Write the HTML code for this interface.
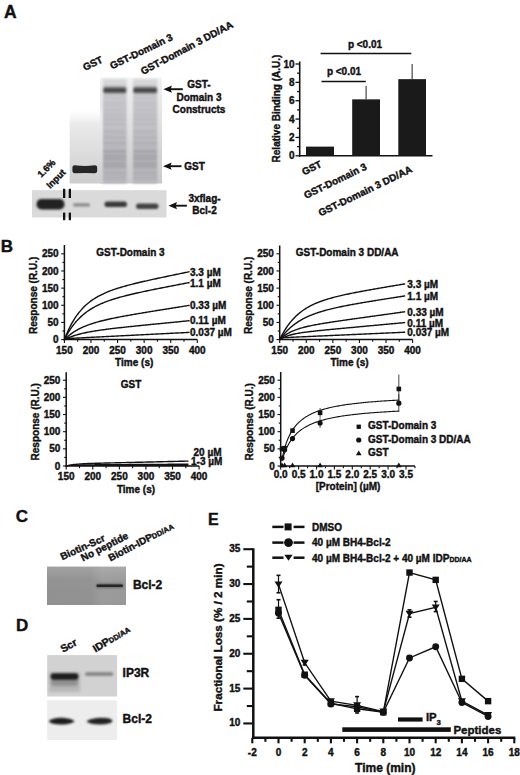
<!DOCTYPE html>
<html><head><meta charset="utf-8"><style>
html,body{margin:0;padding:0;background:#fff;}
svg{display:block;}
text{font-family:"Liberation Sans", sans-serif;font-weight:bold;fill:#111;stroke:#111;stroke-width:0.4px;}
</style></head><body>
<svg width="520" height="775" viewBox="0 0 520 775">
<rect width="520" height="775" fill="#fff"/>
<text x="4" y="18.3" font-size="17.5" text-anchor="start">A</text>
<text x="85" y="71" font-size="10" text-anchor="start" transform="rotate(-26 85 71)">GST</text>
<text x="112" y="69.5" font-size="10" text-anchor="start" transform="rotate(-26 112 69.5)">GST-Domain 3</text>
<text x="143" y="75" font-size="10" text-anchor="start" transform="rotate(-28 143 75)">GST-Domain 3 DD/AA</text>
<defs>
<linearGradient id="lane1" x1="0" y1="0" x2="0" y2="1">
 <stop offset="0" stop-color="#fff"/><stop offset="0.12" stop-color="#e6e6e8"/><stop offset="0.6" stop-color="#d2d2d6"/><stop offset="1" stop-color="#c6c6ca"/></linearGradient>
<linearGradient id="laneS" x1="0" y1="0" x2="0" y2="1">
 <stop offset="0" stop-color="#cfcfd3"/><stop offset="0.5" stop-color="#bcbcc2"/><stop offset="0.85" stop-color="#a9a9b0"/><stop offset="1" stop-color="#b4b4ba"/></linearGradient>
<filter id="bl1" x="-20%" y="-50%" width="140%" height="200%"><feGaussianBlur stdDeviation="1"/></filter>
<filter id="bl06" x="-20%" y="-50%" width="140%" height="200%"><feGaussianBlur stdDeviation="0.6"/></filter>
<filter id="bl2" x="-20%" y="-50%" width="140%" height="200%"><feGaussianBlur stdDeviation="1.6"/></filter>
</defs>
<defs><linearGradient id="gbg" x1="0" y1="0" x2="0" y2="1"><stop offset="0" stop-color="#f4f4f4"/><stop offset="0.05" stop-color="#eeeeee"/><stop offset="0.35" stop-color="#e4e4e4"/><stop offset="0.7" stop-color="#d4d4d4"/><stop offset="1" stop-color="#c9c9c9"/></linearGradient><linearGradient id="gl1" x1="0" y1="0" x2="0" y2="1"><stop offset="0" stop-color="#fff" stop-opacity="0"/><stop offset="0.22" stop-color="#eaeaea"/><stop offset="0.7" stop-color="#d9d9d9"/><stop offset="1" stop-color="#cdcdcd"/></linearGradient><linearGradient id="gl2" x1="0" y1="0" x2="0" y2="1"><stop offset="0" stop-color="#dadadd"/><stop offset="0.08" stop-color="#d0d0d4"/><stop offset="0.4" stop-color="#c3c3c7"/><stop offset="0.75" stop-color="#b3b3b7"/><stop offset="1" stop-color="#b8b8bc"/></linearGradient></defs>
<rect x="100" y="77.5" width="62" height="106" fill="url(#gbg)"/>
<rect x="69.7" y="106" width="33.5" height="77.5" fill="url(#gl1)"/>
<g filter="url(#bl1)">
<rect x="103" y="79" width="23.6" height="104.5" fill="url(#gl2)"/>
<rect x="103.5" y="95.3" width="22.6" height="2" fill="#334" opacity="0.064"/>
<rect x="103.5" y="97.8" width="22.6" height="2" fill="#334" opacity="0.048"/>
<rect x="103.5" y="101.7" width="22.6" height="2" fill="#334" opacity="0.080"/>
<rect x="103.5" y="104.9" width="22.6" height="2" fill="#334" opacity="0.064"/>
<rect x="103.5" y="108.8" width="22.6" height="2" fill="#334" opacity="0.080"/>
<rect x="103.5" y="112.7" width="22.6" height="2" fill="#334" opacity="0.064"/>
<rect x="103.5" y="115.2" width="22.6" height="2" fill="#334" opacity="0.056"/>
<rect x="103.5" y="118.5" width="22.6" height="2" fill="#334" opacity="0.080"/>
<rect x="103.5" y="123" width="22.6" height="2" fill="#334" opacity="0.064"/>
<rect x="103.5" y="130.4" width="22.6" height="2" fill="#334" opacity="0.080"/>
<rect x="103.5" y="136.2" width="22.6" height="2" fill="#334" opacity="0.080"/>
<rect x="103.5" y="142" width="22.6" height="2" fill="#334" opacity="0.096"/>
<rect x="103.5" y="150.4" width="22.6" height="2" fill="#334" opacity="0.176"/>
<rect x="103.5" y="154.9" width="22.6" height="2" fill="#334" opacity="0.144"/>
<rect x="103.5" y="158.1" width="22.6" height="2" fill="#334" opacity="0.144"/>
<rect x="103.5" y="162.7" width="22.6" height="2" fill="#334" opacity="0.176"/>
<rect x="103.5" y="165.9" width="22.6" height="2" fill="#334" opacity="0.160"/>
<rect x="103.5" y="172.3" width="22.6" height="2" fill="#334" opacity="0.080"/>
<rect x="103.5" y="176.8" width="22.6" height="2" fill="#334" opacity="0.064"/>
<rect x="103" y="86.4" width="23.6" height="7.4" rx="2.5" fill="#6a6a6a" opacity="0.85"/>
<rect x="103.6" y="88.2" width="22.400000000000002" height="4" rx="1.5" fill="#3a3a3a" opacity="0.8"/>
<rect x="133" y="79" width="24.3" height="104.5" fill="url(#gl2)"/>
<rect x="133.5" y="95.3" width="23.3" height="2" fill="#334" opacity="0.064"/>
<rect x="133.5" y="97.8" width="23.3" height="2" fill="#334" opacity="0.048"/>
<rect x="133.5" y="101.7" width="23.3" height="2" fill="#334" opacity="0.080"/>
<rect x="133.5" y="104.9" width="23.3" height="2" fill="#334" opacity="0.064"/>
<rect x="133.5" y="108.8" width="23.3" height="2" fill="#334" opacity="0.080"/>
<rect x="133.5" y="112.7" width="23.3" height="2" fill="#334" opacity="0.064"/>
<rect x="133.5" y="115.2" width="23.3" height="2" fill="#334" opacity="0.056"/>
<rect x="133.5" y="118.5" width="23.3" height="2" fill="#334" opacity="0.080"/>
<rect x="133.5" y="123" width="23.3" height="2" fill="#334" opacity="0.064"/>
<rect x="133.5" y="130.4" width="23.3" height="2" fill="#334" opacity="0.080"/>
<rect x="133.5" y="136.2" width="23.3" height="2" fill="#334" opacity="0.080"/>
<rect x="133.5" y="142" width="23.3" height="2" fill="#334" opacity="0.096"/>
<rect x="133.5" y="150.4" width="23.3" height="2" fill="#334" opacity="0.176"/>
<rect x="133.5" y="154.9" width="23.3" height="2" fill="#334" opacity="0.144"/>
<rect x="133.5" y="158.1" width="23.3" height="2" fill="#334" opacity="0.144"/>
<rect x="133.5" y="162.7" width="23.3" height="2" fill="#334" opacity="0.176"/>
<rect x="133.5" y="165.9" width="23.3" height="2" fill="#334" opacity="0.160"/>
<rect x="133.5" y="172.3" width="23.3" height="2" fill="#334" opacity="0.080"/>
<rect x="133.5" y="176.8" width="23.3" height="2" fill="#334" opacity="0.064"/>
<rect x="133" y="86.4" width="24.3" height="7.4" rx="2.5" fill="#6a6a6a" opacity="0.85"/>
<rect x="133.6" y="88.2" width="23.1" height="4" rx="1.5" fill="#3a3a3a" opacity="0.8"/>
</g>
<path d="M72.4,168.2 Q72.2,165 75,165.2 Q84.8,166.6 94.6,165.2 Q97.4,165 97.2,168.2 L97.2,170.6 Q97.2,173.4 94.4,173.2 Q84.8,172.8 75.2,173.2 Q72.4,173.4 72.4,170.6 Z" fill="#262626" filter="url(#bl06)"/>
<rect x="32" y="190.2" width="134.5" height="27.3" fill="#dadada"/>
<g filter="url(#bl1)">
<rect x="36.5" y="199" width="28" height="10.5" rx="5" fill="#222"/>
<rect x="73" y="203.2" width="17" height="3.4" rx="1.7" fill="#8a8a8a"/>
<rect x="104.5" y="201.5" width="22.5" height="5.6" rx="2.8" fill="#383838"/>
<rect x="136" y="203.6" width="22.5" height="5.4" rx="2.7" fill="#424242"/>
</g>
<rect x="62.99999999999999" y="188.8" width="2.3" height="9.2" fill="#111"/>
<rect x="62.99999999999999" y="212.6" width="2.3" height="7.6" fill="#111"/>
<rect x="68.7" y="188.8" width="2.3" height="9.2" fill="#111"/>
<rect x="68.7" y="212.6" width="2.3" height="7.6" fill="#111"/>
<text x="41.3" y="178" font-size="9.2" text-anchor="start" transform="rotate(-45 41.3 178)">1.6%</text>
<text x="50.3" y="189" font-size="9.2" text-anchor="start" transform="rotate(-45 50.3 189)">Input</text>
<line x1="168.4" y1="89.2" x2="182.8" y2="89.2" stroke="#111" stroke-width="1.9"/><path d="M163.4,89.2 L171.9,85.60000000000001 L170.6,89.2 L171.9,92.8 Z" fill="#111"/>
<text x="199" y="88.1" font-size="10" text-anchor="middle">GST-</text>
<text x="199" y="100.6" font-size="10" text-anchor="middle">Domain 3</text>
<text x="199" y="112.7" font-size="10" text-anchor="middle">Constructs</text>
<line x1="168.1" y1="166.2" x2="181.5" y2="166.2" stroke="#111" stroke-width="1.9"/><path d="M163.1,166.2 L171.6,162.6 L170.29999999999998,166.2 L171.6,169.79999999999998 Z" fill="#111"/>
<text x="184.3" y="169.8" font-size="10" text-anchor="start">GST</text>
<line x1="173.5" y1="205.7" x2="186.9" y2="205.7" stroke="#111" stroke-width="1.9"/><path d="M168.5,205.7 L177.0,202.1 L175.7,205.7 L177.0,209.29999999999998 Z" fill="#111"/>
<text x="204.5" y="202" font-size="10" text-anchor="middle">3xflag-</text>
<text x="204.5" y="213.5" font-size="10" text-anchor="middle">Bcl-2</text>
<line x1="299.7" y1="61.5" x2="299.7" y2="156.6" stroke="#111" stroke-width="1.6"/>
<line x1="298.9" y1="155.8" x2="432.5" y2="155.8" stroke="#111" stroke-width="1.6"/>
<line x1="295.5" y1="155.8" x2="299.7" y2="155.8" stroke="#111" stroke-width="1.3"/>
<text x="294.5" y="159.4" font-size="10" text-anchor="end">0</text>
<line x1="297.09999999999997" y1="146.62" x2="299.7" y2="146.62" stroke="#111" stroke-width="1.3"/>
<line x1="295.5" y1="137.44" x2="299.7" y2="137.44" stroke="#111" stroke-width="1.3"/>
<text x="294.5" y="141.04" font-size="10" text-anchor="end">2</text>
<line x1="297.09999999999997" y1="128.26000000000002" x2="299.7" y2="128.26000000000002" stroke="#111" stroke-width="1.3"/>
<line x1="295.5" y1="119.08000000000001" x2="299.7" y2="119.08000000000001" stroke="#111" stroke-width="1.3"/>
<text x="294.5" y="122.68" font-size="10" text-anchor="end">4</text>
<line x1="297.09999999999997" y1="109.9" x2="299.7" y2="109.9" stroke="#111" stroke-width="1.3"/>
<line x1="295.5" y1="100.72000000000001" x2="299.7" y2="100.72000000000001" stroke="#111" stroke-width="1.3"/>
<text x="294.5" y="104.32000000000001" font-size="10" text-anchor="end">6</text>
<line x1="297.09999999999997" y1="91.54000000000002" x2="299.7" y2="91.54000000000002" stroke="#111" stroke-width="1.3"/>
<line x1="295.5" y1="82.36000000000001" x2="299.7" y2="82.36000000000001" stroke="#111" stroke-width="1.3"/>
<text x="294.5" y="85.96000000000001" font-size="10" text-anchor="end">8</text>
<line x1="297.09999999999997" y1="73.18" x2="299.7" y2="73.18" stroke="#111" stroke-width="1.3"/>
<line x1="295.5" y1="64.00000000000001" x2="299.7" y2="64.00000000000001" stroke="#111" stroke-width="1.3"/>
<text x="294.5" y="67.60000000000001" font-size="10" text-anchor="end">10</text>
<rect x="306" y="146.62" width="28" height="9.18" fill="#1a1a1a"/>
<line x1="366.1" y1="86.03200000000001" x2="366.1" y2="99.34300000000002" stroke="#555" stroke-width="1.3"/>
<rect x="352.2" y="99.34300000000002" width="27.80000000000001" height="56.457" fill="#1a1a1a"/>
<line x1="412.15" y1="64.00000000000001" x2="412.15" y2="79.14700000000002" stroke="#555" stroke-width="1.3"/>
<rect x="398.3" y="79.14700000000002" width="27.69999999999999" height="76.65299999999999" fill="#1a1a1a"/>
<line x1="320.6" y1="53.5" x2="411.3" y2="53.5" stroke="#111" stroke-width="1.4"/>
<line x1="321.5" y1="81.5" x2="365.8" y2="81.5" stroke="#111" stroke-width="1.4"/>
<text x="365" y="47.7" font-size="10" text-anchor="middle">p &lt;0.01</text>
<text x="344" y="74.6" font-size="10" text-anchor="middle">p &lt;0.01</text>
<text x="279.8" y="108.5" font-size="10" text-anchor="middle" transform="rotate(-90 279.8 108.5)">Relative Binding (A.U.)</text>
<text x="322.5" y="166.5" font-size="10" text-anchor="end" transform="rotate(-26 322.5 166.5)">GST</text>
<text x="367.5" y="169" font-size="10" text-anchor="end" transform="rotate(-26 367.5 169)">GST-Domain 3</text>
<text x="413" y="171.5" font-size="10" text-anchor="end" transform="rotate(-26 413 171.5)">GST-Domain 3 DD/AA</text>
<text x="0.8" y="252.3" font-size="17" text-anchor="start">B</text>
<line x1="64.4" y1="245" x2="64.4" y2="340.40000000000003" stroke="#111" stroke-width="1.5"/>
<line x1="63.7" y1="339.6" x2="197.29999999999998" y2="339.6" stroke="#111" stroke-width="1.5"/>
<line x1="61.2" y1="339.6" x2="64.4" y2="339.6" stroke="#111" stroke-width="1.1"/>
<text x="58.60000000000001" y="343.20000000000005" font-size="10" text-anchor="end">0</text>
<line x1="62.400000000000006" y1="331.02000000000004" x2="64.4" y2="331.02000000000004" stroke="#111" stroke-width="1.1"/>
<line x1="61.2" y1="322.44" x2="64.4" y2="322.44" stroke="#111" stroke-width="1.1"/>
<text x="58.60000000000001" y="326.04" font-size="10" text-anchor="end">50</text>
<line x1="62.400000000000006" y1="313.86" x2="64.4" y2="313.86" stroke="#111" stroke-width="1.1"/>
<line x1="61.2" y1="305.28000000000003" x2="64.4" y2="305.28000000000003" stroke="#111" stroke-width="1.1"/>
<text x="58.60000000000001" y="308.88000000000005" font-size="10" text-anchor="end">100</text>
<line x1="62.400000000000006" y1="296.70000000000005" x2="64.4" y2="296.70000000000005" stroke="#111" stroke-width="1.1"/>
<line x1="61.2" y1="288.12" x2="64.4" y2="288.12" stroke="#111" stroke-width="1.1"/>
<text x="58.60000000000001" y="291.72" font-size="10" text-anchor="end">150</text>
<line x1="62.400000000000006" y1="279.54" x2="64.4" y2="279.54" stroke="#111" stroke-width="1.1"/>
<line x1="61.2" y1="270.96000000000004" x2="64.4" y2="270.96000000000004" stroke="#111" stroke-width="1.1"/>
<text x="58.60000000000001" y="274.56000000000006" font-size="10" text-anchor="end">200</text>
<line x1="62.400000000000006" y1="262.38" x2="64.4" y2="262.38" stroke="#111" stroke-width="1.1"/>
<line x1="61.2" y1="253.8" x2="64.4" y2="253.8" stroke="#111" stroke-width="1.1"/>
<text x="58.60000000000001" y="257.40000000000003" font-size="10" text-anchor="end">250</text>
<line x1="64.4" y1="339.6" x2="64.4" y2="343.1" stroke="#111" stroke-width="1.1"/>
<text x="64.4" y="353.6" font-size="10" text-anchor="middle">150</text>
<line x1="77.69" y1="339.6" x2="77.69" y2="341.8" stroke="#111" stroke-width="1.1"/>
<line x1="90.98" y1="339.6" x2="90.98" y2="343.1" stroke="#111" stroke-width="1.1"/>
<text x="90.98" y="353.6" font-size="10" text-anchor="middle">200</text>
<line x1="104.27000000000001" y1="339.6" x2="104.27000000000001" y2="341.8" stroke="#111" stroke-width="1.1"/>
<line x1="117.56" y1="339.6" x2="117.56" y2="343.1" stroke="#111" stroke-width="1.1"/>
<text x="117.56" y="353.6" font-size="10" text-anchor="middle">250</text>
<line x1="130.85" y1="339.6" x2="130.85" y2="341.8" stroke="#111" stroke-width="1.1"/>
<line x1="144.14" y1="339.6" x2="144.14" y2="343.1" stroke="#111" stroke-width="1.1"/>
<text x="144.14" y="353.6" font-size="10" text-anchor="middle">300</text>
<line x1="157.43" y1="339.6" x2="157.43" y2="341.8" stroke="#111" stroke-width="1.1"/>
<line x1="170.72" y1="339.6" x2="170.72" y2="343.1" stroke="#111" stroke-width="1.1"/>
<text x="170.72" y="353.6" font-size="10" text-anchor="middle">350</text>
<line x1="184.01" y1="339.6" x2="184.01" y2="341.8" stroke="#111" stroke-width="1.1"/>
<line x1="197.29999999999998" y1="339.6" x2="197.29999999999998" y2="343.1" stroke="#111" stroke-width="1.1"/>
<text x="197.29999999999998" y="353.6" font-size="10" text-anchor="middle">400</text>
<text x="134.2" y="366.1" font-size="10" text-anchor="middle">Time (s)</text>
<text x="36.900000000000006" y="295.40000000000003" font-size="10" text-anchor="middle" transform="rotate(-90 36.900000000000006 295.40000000000003)">Response (R.U.)</text>
<text x="96.3" y="255.9" font-size="10" text-anchor="start">GST-Domain 3</text>
<polyline points="64.40,339.60 65.45,336.89 66.50,334.34 67.56,331.91 68.61,329.62 69.66,327.45 70.71,325.40 71.76,323.45 72.82,321.60 73.87,319.86 74.92,318.20 75.97,316.62 77.02,315.13 78.08,313.71 79.13,312.36 80.18,311.08 81.23,309.86 82.28,308.70 83.34,307.59 84.39,306.54 85.44,305.54 86.49,304.58 87.54,303.67 88.60,302.79 89.65,301.96 90.70,301.16 91.75,300.40 92.80,299.67 93.86,298.97 94.91,298.30 95.96,297.65 97.01,297.03 98.07,296.43 99.12,295.86 100.17,295.31 101.22,294.77 102.27,294.26 103.33,293.76 104.38,293.28 105.43,292.82 106.48,292.37 107.53,291.93 108.59,291.51 109.64,291.10 110.69,290.70 111.74,290.31 112.79,289.94 113.85,289.57 114.90,289.21 115.95,288.86 117.00,288.51 118.05,288.18 119.11,287.85 120.16,287.53 121.21,287.21 122.26,286.90 123.31,286.60 124.37,286.30 125.42,286.01 126.47,285.72 127.52,285.43 128.57,285.15 129.63,284.88 130.68,284.60 131.73,284.33 132.78,284.07 133.83,283.80 134.89,283.54 135.94,283.29 136.99,283.03 138.04,282.78 139.09,282.53 140.15,282.28 141.20,282.03 142.25,281.79 143.30,281.55 144.35,281.30 145.41,281.06 146.46,280.83 147.51,280.59 148.56,280.35 149.61,280.12 150.67,279.89 151.72,279.66 152.77,279.42 153.82,279.19 154.87,278.96 155.93,278.74 156.98,278.51 158.03,278.28 159.08,278.06 160.13,277.83 161.19,277.61 162.24,277.38 163.29,277.16 164.34,276.94 165.40,276.71 166.45,276.49 167.50,276.27 168.55,276.05 169.60,275.83 170.66,275.61 171.71,275.39 172.76,275.17 173.81,274.95 174.86,274.73 175.92,274.51 176.97,274.29 178.02,274.07 179.07,273.86 180.12,273.64 181.18,273.42 182.23,273.20 183.28,272.98 184.33,272.77 185.38,272.55 186.44,272.33 187.49,272.12 188.54,271.90 189.59,271.68" fill="none" stroke="#111" stroke-width="1.4"/>
<polyline points="64.40,339.60 65.45,337.55 66.50,335.60 67.56,333.74 68.61,331.98 69.66,330.31 70.71,328.71 71.76,327.19 72.82,325.75 73.87,324.38 74.92,323.07 75.97,321.82 77.02,320.63 78.08,319.49 79.13,318.41 80.18,317.37 81.23,316.38 82.28,315.44 83.34,314.53 84.39,313.67 85.44,312.84 86.49,312.05 87.54,311.29 88.60,310.56 89.65,309.86 90.70,309.19 91.75,308.54 92.80,307.92 93.86,307.32 94.91,306.75 95.96,306.19 97.01,305.66 98.07,305.14 99.12,304.64 100.17,304.16 101.22,303.69 102.27,303.24 103.33,302.80 104.38,302.38 105.43,301.97 106.48,301.57 107.53,301.18 108.59,300.80 109.64,300.43 110.69,300.07 111.74,299.72 112.79,299.38 113.85,299.04 114.90,298.72 115.95,298.40 117.00,298.09 118.05,297.78 119.11,297.48 120.16,297.19 121.21,296.90 122.26,296.61 123.31,296.33 124.37,296.06 125.42,295.79 126.47,295.52 127.52,295.26 128.57,295.00 129.63,294.74 130.68,294.49 131.73,294.24 132.78,293.99 133.83,293.75 134.89,293.51 135.94,293.27 136.99,293.03 138.04,292.80 139.09,292.56 140.15,292.33 141.20,292.11 142.25,291.88 143.30,291.65 144.35,291.43 145.41,291.21 146.46,290.98 147.51,290.76 148.56,290.55 149.61,290.33 150.67,290.11 151.72,289.90 152.77,289.68 153.82,289.47 154.87,289.25 155.93,289.04 156.98,288.83 158.03,288.62 159.08,288.41 160.13,288.20 161.19,287.99 162.24,287.79 163.29,287.58 164.34,287.37 165.40,287.17 166.45,286.96 167.50,286.75 168.55,286.55 169.60,286.34 170.66,286.14 171.71,285.94 172.76,285.73 173.81,285.53 174.86,285.33 175.92,285.12 176.97,284.92 178.02,284.72 179.07,284.52 180.12,284.31 181.18,284.11 182.23,283.91 183.28,283.71 184.33,283.51 185.38,283.31 186.44,283.11 187.49,282.91 188.54,282.71 189.59,282.51" fill="none" stroke="#111" stroke-width="1.4"/>
<polyline points="64.40,339.60 65.45,338.57 66.50,337.59 67.56,336.66 68.61,335.78 69.66,334.93 70.71,334.13 71.76,333.37 72.82,332.64 73.87,331.95 74.92,331.28 75.97,330.65 77.02,330.04 78.08,329.47 79.13,328.91 80.18,328.38 81.23,327.87 82.28,327.38 83.34,326.91 84.39,326.46 85.44,326.03 86.49,325.61 87.54,325.20 88.60,324.81 89.65,324.44 90.70,324.07 91.75,323.72 92.80,323.38 93.86,323.05 94.91,322.73 95.96,322.42 97.01,322.12 98.07,321.82 99.12,321.54 100.17,321.26 101.22,320.98 102.27,320.72 103.33,320.46 104.38,320.20 105.43,319.95 106.48,319.71 107.53,319.47 108.59,319.23 109.64,319.00 110.69,318.77 111.74,318.55 112.79,318.33 113.85,318.11 114.90,317.90 115.95,317.69 117.00,317.48 118.05,317.27 119.11,317.07 120.16,316.87 121.21,316.67 122.26,316.47 123.31,316.28 124.37,316.08 125.42,315.89 126.47,315.70 127.52,315.51 128.57,315.32 129.63,315.14 130.68,314.95 131.73,314.77 132.78,314.58 133.83,314.40 134.89,314.22 135.94,314.04 136.99,313.86 138.04,313.68 139.09,313.50 140.15,313.33 141.20,313.15 142.25,312.97 143.30,312.80 144.35,312.62 145.41,312.45 146.46,312.28 147.51,312.10 148.56,311.93 149.61,311.76 150.67,311.58 151.72,311.41 152.77,311.24 153.82,311.07 154.87,310.90 155.93,310.73 156.98,310.56 158.03,310.39 159.08,310.22 160.13,310.05 161.19,309.88 162.24,309.71 163.29,309.54 164.34,309.37 165.40,309.20 166.45,309.03 167.50,308.86 168.55,308.70 169.60,308.53 170.66,308.36 171.71,308.19 172.76,308.02 173.81,307.86 174.86,307.69 175.92,307.52 176.97,307.35 178.02,307.19 179.07,307.02 180.12,306.85 181.18,306.68 182.23,306.52 183.28,306.35 184.33,306.18 185.38,306.01 186.44,305.85 187.49,305.68 188.54,305.51 189.59,305.35" fill="none" stroke="#111" stroke-width="1.4"/>
<polyline points="64.40,339.60 65.45,339.09 66.50,338.60 67.56,338.13 68.61,337.69 69.66,337.27 70.71,336.87 71.76,336.48 72.82,336.11 73.87,335.76 74.92,335.43 75.97,335.11 77.02,334.80 78.08,334.50 79.13,334.22 80.18,333.95 81.23,333.68 82.28,333.43 83.34,333.19 84.39,332.95 85.44,332.73 86.49,332.51 87.54,332.30 88.60,332.09 89.65,331.89 90.70,331.70 91.75,331.51 92.80,331.33 93.86,331.15 94.91,330.98 95.96,330.81 97.01,330.65 98.07,330.49 99.12,330.33 100.17,330.18 101.22,330.03 102.27,329.88 103.33,329.73 104.38,329.59 105.43,329.45 106.48,329.31 107.53,329.18 108.59,329.04 109.64,328.91 110.69,328.78 111.74,328.66 112.79,328.53 113.85,328.40 114.90,328.28 115.95,328.16 117.00,328.04 118.05,327.92 119.11,327.80 120.16,327.68 121.21,327.56 122.26,327.45 123.31,327.33 124.37,327.22 125.42,327.11 126.47,326.99 127.52,326.88 128.57,326.77 129.63,326.66 130.68,326.55 131.73,326.44 132.78,326.33 133.83,326.22 134.89,326.11 135.94,326.00 136.99,325.89 138.04,325.79 139.09,325.68 140.15,325.57 141.20,325.47 142.25,325.36 143.30,325.25 144.35,325.15 145.41,325.04 146.46,324.94 147.51,324.83 148.56,324.73 149.61,324.62 150.67,324.52 151.72,324.41 152.77,324.31 153.82,324.20 154.87,324.10 155.93,323.99 156.98,323.89 158.03,323.79 159.08,323.68 160.13,323.58 161.19,323.48 162.24,323.37 163.29,323.27 164.34,323.17 165.40,323.06 166.45,322.96 167.50,322.86 168.55,322.75 169.60,322.65 170.66,322.55 171.71,322.44 172.76,322.34 173.81,322.24 174.86,322.14 175.92,322.03 176.97,321.93 178.02,321.83 179.07,321.72 180.12,321.62 181.18,321.52 182.23,321.42 183.28,321.31 184.33,321.21 185.38,321.11 186.44,321.01 187.49,320.90 188.54,320.80 189.59,320.70" fill="none" stroke="#111" stroke-width="1.4"/>
<polyline points="64.40,339.60 65.45,338.78 66.50,338.60 67.56,338.53 68.61,338.47 69.66,338.42 70.71,338.37 71.76,338.31 72.82,338.26 73.87,338.21 74.92,338.15 75.97,338.10 77.02,338.05 78.08,337.99 79.13,337.94 80.18,337.89 81.23,337.83 82.28,337.78 83.34,337.73 84.39,337.68 85.44,337.62 86.49,337.57 87.54,337.52 88.60,337.46 89.65,337.41 90.70,337.36 91.75,337.30 92.80,337.25 93.86,337.20 94.91,337.14 95.96,337.09 97.01,337.04 98.07,336.98 99.12,336.93 100.17,336.88 101.22,336.83 102.27,336.77 103.33,336.72 104.38,336.67 105.43,336.61 106.48,336.56 107.53,336.51 108.59,336.45 109.64,336.40 110.69,336.35 111.74,336.29 112.79,336.24 113.85,336.19 114.90,336.13 115.95,336.08 117.00,336.03 118.05,335.98 119.11,335.92 120.16,335.87 121.21,335.82 122.26,335.76 123.31,335.71 124.37,335.66 125.42,335.60 126.47,335.55 127.52,335.50 128.57,335.44 129.63,335.39 130.68,335.34 131.73,335.29 132.78,335.23 133.83,335.18 134.89,335.13 135.94,335.07 136.99,335.02 138.04,334.97 139.09,334.91 140.15,334.86 141.20,334.81 142.25,334.75 143.30,334.70 144.35,334.65 145.41,334.59 146.46,334.54 147.51,334.49 148.56,334.44 149.61,334.38 150.67,334.33 151.72,334.28 152.77,334.22 153.82,334.17 154.87,334.12 155.93,334.06 156.98,334.01 158.03,333.96 159.08,333.90 160.13,333.85 161.19,333.80 162.24,333.74 163.29,333.69 164.34,333.64 165.40,333.59 166.45,333.53 167.50,333.48 168.55,333.43 169.60,333.37 170.66,333.32 171.71,333.27 172.76,333.21 173.81,333.16 174.86,333.11 175.92,333.05 176.97,333.00 178.02,332.95 179.07,332.90 180.12,332.84 181.18,332.79 182.23,332.74 183.28,332.68 184.33,332.63 185.38,332.58 186.44,332.52 187.49,332.47 188.54,332.42 189.59,332.36" fill="none" stroke="#111" stroke-width="1.4"/>
<text x="190" y="275.5" font-size="10" text-anchor="start">3.3 µM</text>
<text x="190" y="286.5" font-size="10" text-anchor="start">1.1 µM</text>
<text x="190" y="309.3" font-size="10" text-anchor="start">0.33 µM</text>
<text x="190" y="324.3" font-size="10" text-anchor="start">0.11 µM</text>
<text x="190" y="335.8" font-size="10" text-anchor="start">0.037 µM</text>
<line x1="279.7" y1="245.5" x2="279.7" y2="340.40000000000003" stroke="#111" stroke-width="1.5"/>
<line x1="279.0" y1="339.6" x2="412.59999999999997" y2="339.6" stroke="#111" stroke-width="1.5"/>
<line x1="276.5" y1="339.6" x2="279.7" y2="339.6" stroke="#111" stroke-width="1.1"/>
<text x="273.9" y="343.20000000000005" font-size="10" text-anchor="end">0</text>
<line x1="277.7" y1="331.02000000000004" x2="279.7" y2="331.02000000000004" stroke="#111" stroke-width="1.1"/>
<line x1="276.5" y1="322.44" x2="279.7" y2="322.44" stroke="#111" stroke-width="1.1"/>
<text x="273.9" y="326.04" font-size="10" text-anchor="end">50</text>
<line x1="277.7" y1="313.86" x2="279.7" y2="313.86" stroke="#111" stroke-width="1.1"/>
<line x1="276.5" y1="305.28000000000003" x2="279.7" y2="305.28000000000003" stroke="#111" stroke-width="1.1"/>
<text x="273.9" y="308.88000000000005" font-size="10" text-anchor="end">100</text>
<line x1="277.7" y1="296.70000000000005" x2="279.7" y2="296.70000000000005" stroke="#111" stroke-width="1.1"/>
<line x1="276.5" y1="288.12" x2="279.7" y2="288.12" stroke="#111" stroke-width="1.1"/>
<text x="273.9" y="291.72" font-size="10" text-anchor="end">150</text>
<line x1="277.7" y1="279.54" x2="279.7" y2="279.54" stroke="#111" stroke-width="1.1"/>
<line x1="276.5" y1="270.96000000000004" x2="279.7" y2="270.96000000000004" stroke="#111" stroke-width="1.1"/>
<text x="273.9" y="274.56000000000006" font-size="10" text-anchor="end">200</text>
<line x1="277.7" y1="262.38" x2="279.7" y2="262.38" stroke="#111" stroke-width="1.1"/>
<line x1="276.5" y1="253.8" x2="279.7" y2="253.8" stroke="#111" stroke-width="1.1"/>
<text x="273.9" y="257.40000000000003" font-size="10" text-anchor="end">250</text>
<line x1="279.7" y1="339.6" x2="279.7" y2="343.1" stroke="#111" stroke-width="1.1"/>
<text x="279.7" y="353.6" font-size="10" text-anchor="middle">150</text>
<line x1="292.99" y1="339.6" x2="292.99" y2="341.8" stroke="#111" stroke-width="1.1"/>
<line x1="306.28" y1="339.6" x2="306.28" y2="343.1" stroke="#111" stroke-width="1.1"/>
<text x="306.28" y="353.6" font-size="10" text-anchor="middle">200</text>
<line x1="319.57" y1="339.6" x2="319.57" y2="341.8" stroke="#111" stroke-width="1.1"/>
<line x1="332.86" y1="339.6" x2="332.86" y2="343.1" stroke="#111" stroke-width="1.1"/>
<text x="332.86" y="353.6" font-size="10" text-anchor="middle">250</text>
<line x1="346.15" y1="339.6" x2="346.15" y2="341.8" stroke="#111" stroke-width="1.1"/>
<line x1="359.44" y1="339.6" x2="359.44" y2="343.1" stroke="#111" stroke-width="1.1"/>
<text x="359.44" y="353.6" font-size="10" text-anchor="middle">300</text>
<line x1="372.72999999999996" y1="339.6" x2="372.72999999999996" y2="341.8" stroke="#111" stroke-width="1.1"/>
<line x1="386.02" y1="339.6" x2="386.02" y2="343.1" stroke="#111" stroke-width="1.1"/>
<text x="386.02" y="353.6" font-size="10" text-anchor="middle">350</text>
<line x1="399.30999999999995" y1="339.6" x2="399.30999999999995" y2="341.8" stroke="#111" stroke-width="1.1"/>
<line x1="412.59999999999997" y1="339.6" x2="412.59999999999997" y2="343.1" stroke="#111" stroke-width="1.1"/>
<text x="412.59999999999997" y="353.6" font-size="10" text-anchor="middle">400</text>
<text x="349.5" y="366.1" font-size="10" text-anchor="middle">Time (s)</text>
<text x="252.2" y="295.40000000000003" font-size="10" text-anchor="middle" transform="rotate(-90 252.2 295.40000000000003)">Response (R.U.)</text>
<text x="295.8" y="256.2" font-size="10" text-anchor="start">GST-Domain 3 DD/AA</text>
<polyline points="279.70,339.60 280.75,337.45 281.81,335.41 282.86,333.48 283.92,331.64 284.97,329.90 286.03,328.25 287.08,326.68 288.13,325.19 289.19,323.77 290.24,322.42 291.30,321.14 292.35,319.92 293.41,318.76 294.46,317.65 295.51,316.60 296.57,315.60 297.62,314.64 298.68,313.73 299.73,312.86 300.79,312.03 301.84,311.23 302.89,310.47 303.95,309.75 305.00,309.05 306.06,308.38 307.11,307.75 308.17,307.13 309.22,306.55 310.27,305.98 311.33,305.44 312.38,304.92 313.44,304.41 314.49,303.93 315.55,303.46 316.60,303.01 317.65,302.58 318.71,302.16 319.76,301.76 320.82,301.36 321.87,300.98 322.92,300.61 323.98,300.26 325.03,299.91 326.09,299.57 327.14,299.24 328.20,298.92 329.25,298.61 330.30,298.31 331.36,298.01 332.41,297.72 333.47,297.44 334.52,297.16 335.58,296.89 336.63,296.63 337.68,296.36 338.74,296.11 339.79,295.86 340.85,295.61 341.90,295.37 342.96,295.13 344.01,294.90 345.06,294.67 346.12,294.44 347.17,294.21 348.23,293.99 349.28,293.77 350.34,293.55 351.39,293.34 352.44,293.13 353.50,292.92 354.55,292.71 355.61,292.50 356.66,292.30 357.72,292.10 358.77,291.90 359.82,291.70 360.88,291.50 361.93,291.30 362.99,291.11 364.04,290.91 365.10,290.72 366.15,290.53 367.20,290.34 368.26,290.15 369.31,289.96 370.37,289.77 371.42,289.58 372.48,289.40 373.53,289.21 374.58,289.03 375.64,288.84 376.69,288.66 377.75,288.48 378.80,288.29 379.86,288.11 380.91,287.93 381.96,287.75 383.02,287.57 384.07,287.39 385.13,287.21 386.18,287.03 387.24,286.85 388.29,286.67 389.34,286.49 390.40,286.31 391.45,286.14 392.51,285.96 393.56,285.78 394.61,285.60 395.67,285.43 396.72,285.25 397.78,285.07 398.83,284.90 399.89,284.72 400.94,284.54 401.99,284.37 403.05,284.19 404.10,284.02 405.16,283.84" fill="none" stroke="#111" stroke-width="1.4"/>
<polyline points="279.70,339.60 280.75,338.15 281.81,336.77 282.86,335.45 283.92,334.20 284.97,333.00 286.03,331.85 287.08,330.76 288.13,329.71 289.19,328.71 290.24,327.76 291.30,326.84 292.35,325.97 293.41,325.13 294.46,324.33 295.51,323.56 296.57,322.82 297.62,322.12 298.68,321.44 299.73,320.79 300.79,320.16 301.84,319.56 302.89,318.98 303.95,318.42 305.00,317.89 306.06,317.37 307.11,316.87 308.17,316.39 309.22,315.93 310.27,315.48 311.33,315.05 312.38,314.63 313.44,314.23 314.49,313.83 315.55,313.45 316.60,313.09 317.65,312.73 318.71,312.38 319.76,312.04 320.82,311.71 321.87,311.39 322.92,311.08 323.98,310.78 325.03,310.48 326.09,310.19 327.14,309.91 328.20,309.64 329.25,309.37 330.30,309.10 331.36,308.84 332.41,308.59 333.47,308.34 334.52,308.10 335.58,307.86 336.63,307.62 337.68,307.39 338.74,307.16 339.79,306.94 340.85,306.72 341.90,306.50 342.96,306.29 344.01,306.07 345.06,305.87 346.12,305.66 347.17,305.45 348.23,305.25 349.28,305.05 350.34,304.86 351.39,304.66 352.44,304.47 353.50,304.27 354.55,304.08 355.61,303.89 356.66,303.71 357.72,303.52 358.77,303.34 359.82,303.15 360.88,302.97 361.93,302.79 362.99,302.61 364.04,302.43 365.10,302.25 366.15,302.08 367.20,301.90 368.26,301.73 369.31,301.55 370.37,301.38 371.42,301.21 372.48,301.03 373.53,300.86 374.58,300.69 375.64,300.52 376.69,300.35 377.75,300.18 378.80,300.01 379.86,299.84 380.91,299.68 381.96,299.51 383.02,299.34 384.07,299.17 385.13,299.01 386.18,298.84 387.24,298.68 388.29,298.51 389.34,298.35 390.40,298.18 391.45,298.02 392.51,297.85 393.56,297.69 394.61,297.52 395.67,297.36 396.72,297.20 397.78,297.03 398.83,296.87 399.89,296.71 400.94,296.54 401.99,296.38 403.05,296.22 404.10,296.06 405.16,295.89" fill="none" stroke="#111" stroke-width="1.4"/>
<polyline points="279.70,339.60 280.75,338.62 281.81,337.70 282.86,336.85 283.92,336.05 284.97,335.30 286.03,334.60 287.08,333.95 288.13,333.34 289.19,332.76 290.24,332.22 291.30,331.71 292.35,331.22 293.41,330.77 294.46,330.34 295.51,329.93 296.57,329.55 297.62,329.18 298.68,328.83 299.73,328.49 300.79,328.18 301.84,327.87 302.89,327.58 303.95,327.30 305.00,327.03 306.06,326.77 307.11,326.52 308.17,326.27 309.22,326.04 310.27,325.81 311.33,325.59 312.38,325.38 313.44,325.17 314.49,324.96 315.55,324.76 316.60,324.57 317.65,324.37 318.71,324.19 319.76,324.00 320.82,323.82 321.87,323.64 322.92,323.46 323.98,323.29 325.03,323.12 326.09,322.95 327.14,322.78 328.20,322.62 329.25,322.45 330.30,322.29 331.36,322.13 332.41,321.97 333.47,321.81 334.52,321.65 335.58,321.49 336.63,321.34 337.68,321.18 338.74,321.03 339.79,320.87 340.85,320.72 341.90,320.57 342.96,320.41 344.01,320.26 345.06,320.11 346.12,319.96 347.17,319.81 348.23,319.66 349.28,319.51 350.34,319.36 351.39,319.21 352.44,319.06 353.50,318.91 354.55,318.76 355.61,318.62 356.66,318.47 357.72,318.32 358.77,318.17 359.82,318.02 360.88,317.88 361.93,317.73 362.99,317.58 364.04,317.44 365.10,317.29 366.15,317.14 367.20,316.99 368.26,316.85 369.31,316.70 370.37,316.55 371.42,316.41 372.48,316.26 373.53,316.11 374.58,315.97 375.64,315.82 376.69,315.67 377.75,315.53 378.80,315.38 379.86,315.24 380.91,315.09 381.96,314.94 383.02,314.80 384.07,314.65 385.13,314.50 386.18,314.36 387.24,314.21 388.29,314.07 389.34,313.92 390.40,313.77 391.45,313.63 392.51,313.48 393.56,313.34 394.61,313.19 395.67,313.04 396.72,312.90 397.78,312.75 398.83,312.60 399.89,312.46 400.94,312.31 401.99,312.17 403.05,312.02 404.10,311.87 405.16,311.73" fill="none" stroke="#111" stroke-width="1.4"/>
<polyline points="279.70,339.60 280.75,338.95 281.81,338.35 282.86,337.81 283.92,337.31 284.97,336.85 286.03,336.43 287.08,336.04 288.13,335.68 289.19,335.35 290.24,335.04 291.30,334.76 292.35,334.49 293.41,334.24 294.46,334.00 295.51,333.78 296.57,333.57 297.62,333.38 298.68,333.19 299.73,333.01 300.79,332.84 301.84,332.68 302.89,332.52 303.95,332.37 305.00,332.23 306.06,332.09 307.11,331.95 308.17,331.82 309.22,331.69 310.27,331.57 311.33,331.45 312.38,331.33 313.44,331.21 314.49,331.10 315.55,330.98 316.60,330.87 317.65,330.76 318.71,330.65 319.76,330.54 320.82,330.44 321.87,330.33 322.92,330.22 323.98,330.12 325.03,330.02 326.09,329.91 327.14,329.81 328.20,329.71 329.25,329.61 330.30,329.51 331.36,329.41 332.41,329.31 333.47,329.21 334.52,329.11 335.58,329.01 336.63,328.91 337.68,328.81 338.74,328.71 339.79,328.61 340.85,328.51 341.90,328.41 342.96,328.31 344.01,328.22 345.06,328.12 346.12,328.02 347.17,327.92 348.23,327.82 349.28,327.73 350.34,327.63 351.39,327.53 352.44,327.43 353.50,327.33 354.55,327.24 355.61,327.14 356.66,327.04 357.72,326.94 358.77,326.85 359.82,326.75 360.88,326.65 361.93,326.55 362.99,326.45 364.04,326.36 365.10,326.26 366.15,326.16 367.20,326.06 368.26,325.97 369.31,325.87 370.37,325.77 371.42,325.67 372.48,325.58 373.53,325.48 374.58,325.38 375.64,325.28 376.69,325.19 377.75,325.09 378.80,324.99 379.86,324.89 380.91,324.80 381.96,324.70 383.02,324.60 384.07,324.50 385.13,324.41 386.18,324.31 387.24,324.21 388.29,324.11 389.34,324.02 390.40,323.92 391.45,323.82 392.51,323.72 393.56,323.63 394.61,323.53 395.67,323.43 396.72,323.33 397.78,323.24 398.83,323.14 399.89,323.04 400.94,322.94 401.99,322.85 403.05,322.75 404.10,322.65 405.16,322.55" fill="none" stroke="#111" stroke-width="1.4"/>
<polyline points="279.70,339.60 280.75,338.01 281.81,337.75 282.86,337.68 283.92,337.63 284.97,337.58 286.03,337.53 287.08,337.48 288.13,337.44 289.19,337.39 290.24,337.34 291.30,337.30 292.35,337.25 293.41,337.20 294.46,337.16 295.51,337.11 296.57,337.06 297.62,337.01 298.68,336.97 299.73,336.92 300.79,336.87 301.84,336.83 302.89,336.78 303.95,336.73 305.00,336.68 306.06,336.64 307.11,336.59 308.17,336.54 309.22,336.50 310.27,336.45 311.33,336.40 312.38,336.36 313.44,336.31 314.49,336.26 315.55,336.21 316.60,336.17 317.65,336.12 318.71,336.07 319.76,336.03 320.82,335.98 321.87,335.93 322.92,335.89 323.98,335.84 325.03,335.79 326.09,335.74 327.14,335.70 328.20,335.65 329.25,335.60 330.30,335.56 331.36,335.51 332.41,335.46 333.47,335.42 334.52,335.37 335.58,335.32 336.63,335.27 337.68,335.23 338.74,335.18 339.79,335.13 340.85,335.09 341.90,335.04 342.96,334.99 344.01,334.94 345.06,334.90 346.12,334.85 347.17,334.80 348.23,334.76 349.28,334.71 350.34,334.66 351.39,334.62 352.44,334.57 353.50,334.52 354.55,334.47 355.61,334.43 356.66,334.38 357.72,334.33 358.77,334.29 359.82,334.24 360.88,334.19 361.93,334.15 362.99,334.10 364.04,334.05 365.10,334.00 366.15,333.96 367.20,333.91 368.26,333.86 369.31,333.82 370.37,333.77 371.42,333.72 372.48,333.67 373.53,333.63 374.58,333.58 375.64,333.53 376.69,333.49 377.75,333.44 378.80,333.39 379.86,333.35 380.91,333.30 381.96,333.25 383.02,333.20 384.07,333.16 385.13,333.11 386.18,333.06 387.24,333.02 388.29,332.97 389.34,332.92 390.40,332.88 391.45,332.83 392.51,332.78 393.56,332.73 394.61,332.69 395.67,332.64 396.72,332.59 397.78,332.55 398.83,332.50 399.89,332.45 400.94,332.41 401.99,332.36 403.05,332.31 404.10,332.26 405.16,332.22" fill="none" stroke="#111" stroke-width="1.4"/>
<text x="407.3" y="287.5" font-size="10" text-anchor="start">3.3 µM</text>
<text x="407.3" y="299.5" font-size="10" text-anchor="start">1.1 µM</text>
<text x="407.3" y="315.5" font-size="10" text-anchor="start">0.33 µM</text>
<text x="407.3" y="326.5" font-size="10" text-anchor="start">0.11 µM</text>
<text x="407.3" y="336.3" font-size="10" text-anchor="start">0.037 µM</text>
<line x1="66.2" y1="372.3" x2="66.2" y2="466.8" stroke="#111" stroke-width="1.5"/>
<line x1="65.5" y1="466" x2="199.09999999999997" y2="466" stroke="#111" stroke-width="1.5"/>
<line x1="63.0" y1="466.0" x2="66.2" y2="466.0" stroke="#111" stroke-width="1.1"/>
<text x="60.400000000000006" y="469.6" font-size="10" text-anchor="end">0</text>
<line x1="64.2" y1="457.42" x2="66.2" y2="457.42" stroke="#111" stroke-width="1.1"/>
<line x1="63.0" y1="448.84" x2="66.2" y2="448.84" stroke="#111" stroke-width="1.1"/>
<text x="60.400000000000006" y="452.44" font-size="10" text-anchor="end">50</text>
<line x1="64.2" y1="440.26" x2="66.2" y2="440.26" stroke="#111" stroke-width="1.1"/>
<line x1="63.0" y1="431.68" x2="66.2" y2="431.68" stroke="#111" stroke-width="1.1"/>
<text x="60.400000000000006" y="435.28000000000003" font-size="10" text-anchor="end">100</text>
<line x1="64.2" y1="423.1" x2="66.2" y2="423.1" stroke="#111" stroke-width="1.1"/>
<line x1="63.0" y1="414.52" x2="66.2" y2="414.52" stroke="#111" stroke-width="1.1"/>
<text x="60.400000000000006" y="418.12" font-size="10" text-anchor="end">150</text>
<line x1="64.2" y1="405.94" x2="66.2" y2="405.94" stroke="#111" stroke-width="1.1"/>
<line x1="63.0" y1="397.36" x2="66.2" y2="397.36" stroke="#111" stroke-width="1.1"/>
<text x="60.400000000000006" y="400.96000000000004" font-size="10" text-anchor="end">200</text>
<line x1="64.2" y1="388.78" x2="66.2" y2="388.78" stroke="#111" stroke-width="1.1"/>
<line x1="63.0" y1="380.2" x2="66.2" y2="380.2" stroke="#111" stroke-width="1.1"/>
<text x="60.400000000000006" y="383.8" font-size="10" text-anchor="end">250</text>
<line x1="66.2" y1="466" x2="66.2" y2="469.5" stroke="#111" stroke-width="1.1"/>
<text x="66.2" y="480" font-size="10" text-anchor="middle">150</text>
<line x1="79.49000000000001" y1="466" x2="79.49000000000001" y2="468.2" stroke="#111" stroke-width="1.1"/>
<line x1="92.78" y1="466" x2="92.78" y2="469.5" stroke="#111" stroke-width="1.1"/>
<text x="92.78" y="480" font-size="10" text-anchor="middle">200</text>
<line x1="106.07" y1="466" x2="106.07" y2="468.2" stroke="#111" stroke-width="1.1"/>
<line x1="119.36" y1="466" x2="119.36" y2="469.5" stroke="#111" stroke-width="1.1"/>
<text x="119.36" y="480" font-size="10" text-anchor="middle">250</text>
<line x1="132.64999999999998" y1="466" x2="132.64999999999998" y2="468.2" stroke="#111" stroke-width="1.1"/>
<line x1="145.94" y1="466" x2="145.94" y2="469.5" stroke="#111" stroke-width="1.1"/>
<text x="145.94" y="480" font-size="10" text-anchor="middle">300</text>
<line x1="159.23" y1="466" x2="159.23" y2="468.2" stroke="#111" stroke-width="1.1"/>
<line x1="172.51999999999998" y1="466" x2="172.51999999999998" y2="469.5" stroke="#111" stroke-width="1.1"/>
<text x="172.51999999999998" y="480" font-size="10" text-anchor="middle">350</text>
<line x1="185.81" y1="466" x2="185.81" y2="468.2" stroke="#111" stroke-width="1.1"/>
<line x1="199.09999999999997" y1="466" x2="199.09999999999997" y2="469.5" stroke="#111" stroke-width="1.1"/>
<text x="199.09999999999997" y="480" font-size="10" text-anchor="middle">400</text>
<text x="136.0" y="492.5" font-size="10" text-anchor="middle">Time (s)</text>
<text x="38.7" y="421.8" font-size="10" text-anchor="middle" transform="rotate(-90 38.7 421.8)">Response (R.U.)</text>
<text x="120.8" y="387.9" font-size="10" text-anchor="start">GST</text>
<polyline points="66.20,466.00 67.75,465.60 69.30,465.27 70.84,464.98 72.39,464.74 73.94,464.54 75.49,464.37 77.03,464.22 78.58,464.09 80.13,463.98 81.68,463.88 83.22,463.79 84.77,463.71 86.32,463.64 87.87,463.57 89.42,463.51 90.96,463.46 92.51,463.41 94.06,463.36 95.61,463.31 97.15,463.26 98.70,463.22 100.25,463.18 101.80,463.14 103.34,463.10 104.89,463.06 106.44,463.02 107.99,462.98 109.54,462.94 111.08,462.91 112.63,462.87 114.18,462.83 115.73,462.79 117.27,462.76 118.82,462.72 120.37,462.68 121.92,462.65 123.46,462.61 125.01,462.58 126.56,462.54 128.11,462.50 129.66,462.47 131.20,462.43 132.75,462.39 134.30,462.36 135.85,462.32 137.39,462.29 138.94,462.25 140.49,462.21 142.04,462.18 143.58,462.14 145.13,462.11 146.68,462.07 148.23,462.03 149.78,462.00 151.32,461.96 152.87,461.93 154.42,461.89 155.97,461.85 157.51,461.82 159.06,461.78 160.61,461.75 162.16,461.71 163.70,461.67 165.25,461.64 166.80,461.60 168.35,461.57 169.90,461.53 171.44,461.49 172.99,461.46 174.54,461.42 176.09,461.39 177.63,461.35 179.18,461.31 180.73,461.28 182.28,461.24 183.82,461.21 185.37,461.17 186.92,461.14 188.47,461.10" fill="none" stroke="#111" stroke-width="1.4"/>
<polygon points="66.20,466.00 67.75,465.62 69.30,465.32 70.84,465.08 72.39,464.89 73.94,464.74 75.49,464.62 77.03,464.53 78.58,464.45 80.13,464.39 81.68,464.34 83.22,464.29 84.77,464.26 86.32,464.23 87.87,464.20 89.42,464.18 90.96,464.16 92.51,464.14 94.06,464.13 95.61,464.11 97.15,464.10 98.70,464.08 100.25,464.07 101.80,464.06 103.34,464.05 104.89,464.04 106.44,464.03 107.99,464.02 109.54,464.01 111.08,464.00 112.63,463.99 114.18,463.98 115.73,463.96 117.27,463.95 118.82,463.94 120.37,463.93 121.92,463.92 123.46,463.91 125.01,463.90 126.56,463.89 128.11,463.88 129.66,463.87 131.20,463.86 132.75,463.85 134.30,463.84 135.85,463.83 137.39,463.82 138.94,463.81 140.49,463.80 142.04,463.79 143.58,463.78 145.13,463.77 146.68,463.76 148.23,463.75 149.78,463.74 151.32,463.73 152.87,463.72 154.42,463.71 155.97,463.70 157.51,463.69 159.06,463.68 160.61,463.67 162.16,463.66 163.70,463.65 165.25,463.64 166.80,463.63 168.35,463.62 169.90,463.61 171.44,463.60 172.99,463.59 174.54,463.58 176.09,463.57 177.63,463.56 179.18,463.55 180.73,463.54 182.28,463.53 183.82,463.52 185.37,463.51 186.92,463.50 188.47,463.49 188.47,466.00 66.20,466.00" fill="#111"/>
<text x="193.5" y="455.8" font-size="10" text-anchor="start">20 µM</text>
<text x="191" y="465.4" font-size="10" text-anchor="start">1-3 µM</text>
<line x1="280.7" y1="372" x2="280.7" y2="466.8" stroke="#111" stroke-width="1.5"/>
<line x1="280.0" y1="466" x2="414.95" y2="466" stroke="#111" stroke-width="1.5"/>
<line x1="277.5" y1="466.0" x2="280.7" y2="466.0" stroke="#111" stroke-width="1.1"/>
<text x="274.9" y="469.6" font-size="10" text-anchor="end">0</text>
<line x1="278.7" y1="457.42" x2="280.7" y2="457.42" stroke="#111" stroke-width="1.1"/>
<line x1="277.5" y1="448.84" x2="280.7" y2="448.84" stroke="#111" stroke-width="1.1"/>
<text x="274.9" y="452.44" font-size="10" text-anchor="end">50</text>
<line x1="278.7" y1="440.26" x2="280.7" y2="440.26" stroke="#111" stroke-width="1.1"/>
<line x1="277.5" y1="431.68" x2="280.7" y2="431.68" stroke="#111" stroke-width="1.1"/>
<text x="274.9" y="435.28000000000003" font-size="10" text-anchor="end">100</text>
<line x1="278.7" y1="423.1" x2="280.7" y2="423.1" stroke="#111" stroke-width="1.1"/>
<line x1="277.5" y1="414.52" x2="280.7" y2="414.52" stroke="#111" stroke-width="1.1"/>
<text x="274.9" y="418.12" font-size="10" text-anchor="end">150</text>
<line x1="278.7" y1="405.94" x2="280.7" y2="405.94" stroke="#111" stroke-width="1.1"/>
<line x1="277.5" y1="397.36" x2="280.7" y2="397.36" stroke="#111" stroke-width="1.1"/>
<text x="274.9" y="400.96000000000004" font-size="10" text-anchor="end">200</text>
<line x1="278.7" y1="388.78" x2="280.7" y2="388.78" stroke="#111" stroke-width="1.1"/>
<line x1="277.5" y1="380.2" x2="280.7" y2="380.2" stroke="#111" stroke-width="1.1"/>
<text x="274.9" y="383.8" font-size="10" text-anchor="end">250</text>
<line x1="280.7" y1="466" x2="280.7" y2="469.5" stroke="#111" stroke-width="1.1"/>
<text x="280.7" y="478.3" font-size="10" text-anchor="middle">0.0</text>
<line x1="289.65" y1="466" x2="289.65" y2="468.2" stroke="#111" stroke-width="1.1"/>
<line x1="298.59999999999997" y1="466" x2="298.59999999999997" y2="469.5" stroke="#111" stroke-width="1.1"/>
<text x="298.59999999999997" y="478.3" font-size="10" text-anchor="middle">0.5</text>
<line x1="307.55" y1="466" x2="307.55" y2="468.2" stroke="#111" stroke-width="1.1"/>
<line x1="316.5" y1="466" x2="316.5" y2="469.5" stroke="#111" stroke-width="1.1"/>
<text x="316.5" y="478.3" font-size="10" text-anchor="middle">1.0</text>
<line x1="325.45" y1="466" x2="325.45" y2="468.2" stroke="#111" stroke-width="1.1"/>
<line x1="334.4" y1="466" x2="334.4" y2="469.5" stroke="#111" stroke-width="1.1"/>
<text x="334.4" y="478.3" font-size="10" text-anchor="middle">1.5</text>
<line x1="343.34999999999997" y1="466" x2="343.34999999999997" y2="468.2" stroke="#111" stroke-width="1.1"/>
<line x1="352.29999999999995" y1="466" x2="352.29999999999995" y2="469.5" stroke="#111" stroke-width="1.1"/>
<text x="352.29999999999995" y="478.3" font-size="10" text-anchor="middle">2.0</text>
<line x1="361.25" y1="466" x2="361.25" y2="468.2" stroke="#111" stroke-width="1.1"/>
<line x1="370.2" y1="466" x2="370.2" y2="469.5" stroke="#111" stroke-width="1.1"/>
<text x="370.2" y="478.3" font-size="10" text-anchor="middle">2.5</text>
<line x1="379.15" y1="466" x2="379.15" y2="468.2" stroke="#111" stroke-width="1.1"/>
<line x1="388.09999999999997" y1="466" x2="388.09999999999997" y2="469.5" stroke="#111" stroke-width="1.1"/>
<text x="388.09999999999997" y="478.3" font-size="10" text-anchor="middle">3.0</text>
<line x1="397.04999999999995" y1="466" x2="397.04999999999995" y2="468.2" stroke="#111" stroke-width="1.1"/>
<line x1="406.0" y1="466" x2="406.0" y2="469.5" stroke="#111" stroke-width="1.1"/>
<text x="406.0" y="478.3" font-size="10" text-anchor="middle">3.5</text>
<line x1="414.95" y1="466" x2="414.95" y2="468.2" stroke="#111" stroke-width="1.1"/>
<text x="348" y="489.5" font-size="10" text-anchor="middle">[Protein] (µM)</text>
<text x="253.2" y="421.8" font-size="10" text-anchor="middle" transform="rotate(-90 253.2 421.8)">Response (R.U.)</text>
<polyline points="282.02,458.83 283.20,453.53 284.38,449.03 285.56,445.16 286.74,441.79 287.92,438.83 289.10,436.21 290.28,433.88 291.46,431.78 292.64,429.90 293.82,428.19 295.00,426.63 296.18,425.21 297.36,423.90 298.54,422.69 299.72,421.58 300.90,420.55 302.08,419.59 303.26,418.70 304.44,417.86 305.62,417.08 306.80,416.35 307.98,415.66 309.16,415.01 310.34,414.40 311.52,413.82 312.70,413.27 313.88,412.75 315.06,412.26 316.24,411.79 317.42,411.34 318.60,410.92 319.78,410.51 320.96,410.13 322.14,409.76 323.32,409.40 324.50,409.06 325.68,408.74 326.86,408.43 328.04,408.13 329.22,407.84 330.40,407.56 331.58,407.30 332.76,407.04 333.94,406.79 335.12,406.55 336.30,406.32 337.48,406.10 338.66,405.89 339.84,405.68 341.02,405.48 342.20,405.28 343.38,405.09 344.56,404.91 345.74,404.74 346.92,404.56 348.10,404.40 349.28,404.24 350.46,404.08 351.64,403.93 352.82,403.78 354.00,403.63 355.18,403.49 356.36,403.36 357.54,403.22 358.72,403.09 359.90,402.97 361.08,402.85 362.26,402.73 363.44,402.61 364.62,402.50 365.80,402.38 366.98,402.28 368.16,402.17 369.34,402.07 370.52,401.97 371.70,401.87 372.88,401.77 374.06,401.68 375.24,401.58 376.42,401.49 377.60,401.41 378.78,401.32 379.96,401.24 381.14,401.15 382.32,401.07 383.50,400.99 384.68,400.91 385.86,400.84 387.04,400.76 388.22,400.69 389.40,400.62 390.58,400.55 391.76,400.48 392.94,400.41 394.12,400.34 395.30,400.28 396.48,400.22 397.66,400.15 398.84,400.09" fill="none" stroke="#111" stroke-width="1.1"/>
<polyline points="282.02,460.80 283.20,456.85 284.38,453.43 285.56,450.42 286.74,447.76 287.92,445.39 289.10,443.26 290.28,441.35 291.46,439.62 292.64,438.04 293.82,436.59 295.00,435.27 296.18,434.05 297.36,432.92 298.54,431.88 299.72,430.91 300.90,430.01 302.08,429.16 303.26,428.37 304.44,427.63 305.62,426.93 306.80,426.28 307.98,425.66 309.16,425.07 310.34,424.52 311.52,423.99 312.70,423.50 313.88,423.02 315.06,422.57 316.24,422.14 317.42,421.73 318.60,421.34 319.78,420.97 320.96,420.61 322.14,420.27 323.32,419.94 324.50,419.63 325.68,419.33 326.86,419.04 328.04,418.76 329.22,418.49 330.40,418.23 331.58,417.98 332.76,417.74 333.94,417.51 335.12,417.28 336.30,417.06 337.48,416.85 338.66,416.65 339.84,416.46 341.02,416.27 342.20,416.08 343.38,415.90 344.56,415.73 345.74,415.56 346.92,415.40 348.10,415.24 349.28,415.09 350.46,414.94 351.64,414.79 352.82,414.65 354.00,414.51 355.18,414.38 356.36,414.25 357.54,414.12 358.72,414.00 359.90,413.88 361.08,413.76 362.26,413.65 363.44,413.53 364.62,413.42 365.80,413.32 366.98,413.21 368.16,413.11 369.34,413.01 370.52,412.91 371.70,412.82 372.88,412.73 374.06,412.64 375.24,412.55 376.42,412.46 377.60,412.37 378.78,412.29 379.96,412.21 381.14,412.13 382.32,412.05 383.50,411.97 384.68,411.90 385.86,411.83 387.04,411.75 388.22,411.68 389.40,411.61 390.58,411.54 391.76,411.48 392.94,411.41 394.12,411.35 395.30,411.28 396.48,411.22 397.66,411.16 398.84,411.10" fill="none" stroke="#111" stroke-width="1.1"/>
<line x1="282.02459999999996" y1="446.09439999999995" x2="282.02459999999996" y2="451.5856" stroke="#333" stroke-width="0.9"/>
<rect x="279.72459999999995" y="446.53999999999996" width="4.6" height="4.6" fill="#111"/>
<line x1="284.638" y1="446.0944" x2="284.638" y2="450.21279999999996" stroke="#333" stroke-width="0.9"/>
<rect x="282.33799999999997" y="445.8536" width="4.6" height="4.6" fill="#111"/>
<line x1="292.514" y1="428.5912" x2="292.514" y2="432.70959999999997" stroke="#333" stroke-width="0.9"/>
<rect x="290.214" y="428.3504" width="4.6" height="4.6" fill="#111"/>
<line x1="320.08" y1="407.9992" x2="320.08" y2="417.6088" stroke="#333" stroke-width="0.9"/>
<rect x="317.78" y="410.50399999999996" width="4.6" height="4.6" fill="#111"/>
<line x1="398.84" y1="374.5372" x2="398.84" y2="403.366" stroke="#333" stroke-width="0.9"/>
<rect x="396.53999999999996" y="386.6516" width="4.6" height="4.6" fill="#111"/>
<line x1="282.02459999999996" y1="456.04720000000003" x2="282.02459999999996" y2="460.1656" stroke="#333" stroke-width="0.9"/>
<circle cx="282.02459999999996" cy="458.1064" r="2.6" fill="#111"/>
<line x1="284.638" y1="447.8104" x2="284.638" y2="451.92879999999997" stroke="#333" stroke-width="0.9"/>
<circle cx="284.638" cy="449.8696" r="2.6" fill="#111"/>
<line x1="292.514" y1="435.79839999999996" x2="292.514" y2="441.2896" stroke="#333" stroke-width="0.9"/>
<circle cx="292.514" cy="438.544" r="2.6" fill="#111"/>
<line x1="320.08" y1="418.2952" x2="320.08" y2="427.9048" stroke="#333" stroke-width="0.9"/>
<circle cx="320.08" cy="423.1" r="2.6" fill="#111"/>
<line x1="398.84" y1="394.27119999999996" x2="398.84" y2="412.1176" stroke="#333" stroke-width="0.9"/>
<circle cx="398.84" cy="403.1944" r="2.6" fill="#111"/>
<path d="M279.22459999999995,467.3136 L284.8246,467.3136 L282.02459999999996,462.5136 Z" fill="#111"/>
<path d="M281.83799999999997,467.3136 L287.438,467.3136 L284.638,462.5136 Z" fill="#111"/>
<path d="M289.714,467.3136 L295.314,467.3136 L292.514,462.5136 Z" fill="#111"/>
<path d="M317.28,467.3136 L322.88,467.3136 L320.08,462.5136 Z" fill="#111"/>
<path d="M396.03999999999996,467.3136 L401.64,467.3136 L398.84,462.5136 Z" fill="#111"/>
<rect x="356.6" y="424.6" width="4.3" height="4.3" fill="#111"/>
<text x="368" y="429.4" font-size="10" text-anchor="start">GST-Domain 3</text>
<circle cx="358.75" cy="440" r="2.6" fill="#111"/>
<text x="368" y="442.7" font-size="10" text-anchor="start">GST-Domain 3 DD/AA</text>
<path d="M355.9,455.2 L361.6,455.2 L358.75,450.4 Z" fill="#111"/>
<text x="368" y="456.1" font-size="10" text-anchor="start">GST</text>
<text x="15.8" y="522.4" font-size="17" text-anchor="start">C</text>
<defs><linearGradient id="blotC" x1="0" y1="0" x2="1" y2="0">
<stop offset="0" stop-color="#8e8e8e"/><stop offset="0.55" stop-color="#8f8f8f"/><stop offset="0.7" stop-color="#999"/><stop offset="1" stop-color="#969696"/></linearGradient>
<linearGradient id="blotCv" x1="0" y1="0" x2="0" y2="1"><stop offset="0" stop-color="#fff" stop-opacity="0.18"/><stop offset="0.35" stop-color="#fff" stop-opacity="0.04"/><stop offset="1" stop-color="#fff" stop-opacity="0.02"/></linearGradient></defs>
<rect x="47" y="566.6" width="79" height="38.4" fill="url(#blotC)"/>
<rect x="47" y="566.6" width="79" height="38.4" fill="url(#blotCv)"/>
<rect x="96" y="583.5" width="27.5" height="4.5" rx="2" fill="#444" opacity="0.6" filter="url(#bl1)"/>
<rect x="96.5" y="584.6" width="26.5" height="2.4" rx="1.2" fill="#262626" filter="url(#bl06)"/>
<text x="132.9" y="589" font-size="12" text-anchor="start">Bcl-2</text>
<text x="62.3" y="560.3" font-size="10" text-anchor="start" transform="rotate(-24.5 62.3 560.3)">Biotin-Scr</text>
<text x="83" y="561.5" font-size="10" text-anchor="start" transform="rotate(-27 83 561.5)">No peptide</text>
<text x="110.5" y="561.5" font-size="10" text-anchor="start" transform="rotate(-27.5 110.5 561.5)">Biotin-IDP<tspan font-size="7.5">DD/AA</tspan></text>
<text x="16" y="630.5" font-size="17" text-anchor="start">D</text>
<rect x="47.2" y="655.1" width="69.9" height="41.4" fill="#d2d2d2"/>
<rect x="47.2" y="700.4" width="69.9" height="39.6" fill="#ededed"/>
<g filter="url(#bl1)">
</g><g filter="url(#bl2)">
<rect x="49" y="672" width="31" height="20" fill="#b0b0b0" opacity="0.8"/>
<rect x="51" y="678" width="27" height="8" rx="3" fill="#777" opacity="0.6"/>
</g><g filter="url(#bl1)">
<rect x="50.6" y="673.3" width="27.8" height="6.4" rx="3" fill="#1e1e1e"/>
<rect x="85" y="672" width="28.4" height="4" rx="2" fill="#8a8a8a"/>
<path d="M48.6,721.3 Q52,717.6 62,717.8 Q72,718.6 74.5,721.3 Q72,724.2 62,724.6 Q52,724.8 48.6,721.3 Z" fill="#1c1c1c"/>
<path d="M86.4,721.2 Q90,718.6 100,717.8 Q111,717.4 112.7,720.9 Q111,724.2 100,724.4 Q90,724.4 86.4,721.2 Z" fill="#222"/>
</g>
<text x="122.6" y="677" font-size="12" text-anchor="start">IP3R</text>
<text x="122.6" y="722.8" font-size="12" text-anchor="start">Bcl-2</text>
<text x="63" y="652.8" font-size="10.5" text-anchor="start" transform="rotate(-29 63 652.8)">Scr</text>
<text x="95.5" y="652.5" font-size="10.5" text-anchor="start" transform="rotate(-31 95.5 652.5)">IDP<tspan font-size="7.5">DD/AA</tspan></text>
<text x="208" y="525.3" font-size="16" text-anchor="start">E</text>
<line x1="253.3" y1="548.3" x2="253.3" y2="739.0" stroke="#111" stroke-width="2.5"/>
<line x1="252.10000000000002" y1="737.8" x2="515.3" y2="737.8" stroke="#111" stroke-width="2.4"/>
<line x1="243.3" y1="723.45" x2="253.3" y2="723.45" stroke="#111" stroke-width="2.1"/>
<text x="240.3" y="726.45" font-size="10" text-anchor="end">10</text>
<line x1="246.8" y1="706.0250000000001" x2="253.3" y2="706.0250000000001" stroke="#111" stroke-width="2.1"/>
<line x1="243.3" y1="688.6" x2="253.3" y2="688.6" stroke="#111" stroke-width="2.1"/>
<text x="240.3" y="691.6" font-size="10" text-anchor="end">15</text>
<line x1="246.8" y1="671.1750000000001" x2="253.3" y2="671.1750000000001" stroke="#111" stroke-width="2.1"/>
<line x1="243.3" y1="653.75" x2="253.3" y2="653.75" stroke="#111" stroke-width="2.1"/>
<text x="240.3" y="656.75" font-size="10" text-anchor="end">20</text>
<line x1="246.8" y1="636.325" x2="253.3" y2="636.325" stroke="#111" stroke-width="2.1"/>
<line x1="243.3" y1="618.9000000000001" x2="253.3" y2="618.9000000000001" stroke="#111" stroke-width="2.1"/>
<text x="240.3" y="621.9000000000001" font-size="10" text-anchor="end">25</text>
<line x1="246.8" y1="601.475" x2="253.3" y2="601.475" stroke="#111" stroke-width="2.1"/>
<line x1="243.3" y1="584.0500000000001" x2="253.3" y2="584.0500000000001" stroke="#111" stroke-width="2.1"/>
<text x="240.3" y="587.0500000000001" font-size="10" text-anchor="end">30</text>
<line x1="246.8" y1="566.625" x2="253.3" y2="566.625" stroke="#111" stroke-width="2.1"/>
<line x1="243.3" y1="549.2" x2="253.3" y2="549.2" stroke="#111" stroke-width="2.1"/>
<text x="240.3" y="552.2" font-size="10" text-anchor="end">35</text>
<line x1="252.3" y1="737.8" x2="252.3" y2="743.3" stroke="#111" stroke-width="2.1"/>
<text x="252.3" y="755.5999999999999" font-size="10" text-anchor="middle">-2</text>
<line x1="265.4" y1="737.8" x2="265.4" y2="741.8" stroke="#111" stroke-width="2.1"/>
<line x1="278.5" y1="737.8" x2="278.5" y2="743.3" stroke="#111" stroke-width="2.1"/>
<text x="278.5" y="755.5999999999999" font-size="10" text-anchor="middle">0</text>
<line x1="291.6" y1="737.8" x2="291.6" y2="741.8" stroke="#111" stroke-width="2.1"/>
<line x1="304.7" y1="737.8" x2="304.7" y2="743.3" stroke="#111" stroke-width="2.1"/>
<text x="304.7" y="755.5999999999999" font-size="10" text-anchor="middle">2</text>
<line x1="317.8" y1="737.8" x2="317.8" y2="741.8" stroke="#111" stroke-width="2.1"/>
<line x1="330.9" y1="737.8" x2="330.9" y2="743.3" stroke="#111" stroke-width="2.1"/>
<text x="330.9" y="755.5999999999999" font-size="10" text-anchor="middle">4</text>
<line x1="344.0" y1="737.8" x2="344.0" y2="741.8" stroke="#111" stroke-width="2.1"/>
<line x1="357.1" y1="737.8" x2="357.1" y2="743.3" stroke="#111" stroke-width="2.1"/>
<text x="357.1" y="755.5999999999999" font-size="10" text-anchor="middle">6</text>
<line x1="370.2" y1="737.8" x2="370.2" y2="741.8" stroke="#111" stroke-width="2.1"/>
<line x1="383.3" y1="737.8" x2="383.3" y2="743.3" stroke="#111" stroke-width="2.1"/>
<text x="383.3" y="755.5999999999999" font-size="10" text-anchor="middle">8</text>
<line x1="396.4" y1="737.8" x2="396.4" y2="741.8" stroke="#111" stroke-width="2.1"/>
<line x1="409.5" y1="737.8" x2="409.5" y2="743.3" stroke="#111" stroke-width="2.1"/>
<text x="409.5" y="755.5999999999999" font-size="10" text-anchor="middle">10</text>
<line x1="422.6" y1="737.8" x2="422.6" y2="741.8" stroke="#111" stroke-width="2.1"/>
<line x1="435.7" y1="737.8" x2="435.7" y2="743.3" stroke="#111" stroke-width="2.1"/>
<text x="435.7" y="755.5999999999999" font-size="10" text-anchor="middle">12</text>
<line x1="448.79999999999995" y1="737.8" x2="448.79999999999995" y2="741.8" stroke="#111" stroke-width="2.1"/>
<line x1="461.9" y1="737.8" x2="461.9" y2="743.3" stroke="#111" stroke-width="2.1"/>
<text x="461.9" y="755.5999999999999" font-size="10" text-anchor="middle">14</text>
<line x1="475.0" y1="737.8" x2="475.0" y2="741.8" stroke="#111" stroke-width="2.1"/>
<line x1="488.1" y1="737.8" x2="488.1" y2="743.3" stroke="#111" stroke-width="2.1"/>
<text x="488.1" y="755.5999999999999" font-size="10" text-anchor="middle">16</text>
<line x1="501.2" y1="737.8" x2="501.2" y2="741.8" stroke="#111" stroke-width="2.1"/>
<line x1="514.3" y1="737.8" x2="514.3" y2="743.3" stroke="#111" stroke-width="2.1"/>
<text x="514.3" y="755.5999999999999" font-size="10" text-anchor="middle">18</text>
<text x="385.3" y="771.7" font-size="12" text-anchor="middle">Time (min)</text>
<text x="222" y="637.5" font-size="11.7" text-anchor="middle" transform="rotate(-90 222 637.5)">Fractional Loss (% / 2 min)</text>
<polyline points="278.50,609.84 304.70,674.66 330.90,703.24 357.10,708.81 383.30,712.30 409.50,572.55 435.70,579.87 461.90,678.84 488.10,701.15" fill="none" stroke="#111" stroke-width="1.4"/>
<polyline points="278.50,613.32 304.70,675.36 330.90,703.93 357.10,706.72 383.30,712.30 409.50,657.93 435.70,646.78 461.90,702.54 488.10,716.48" fill="none" stroke="#111" stroke-width="1.4"/>
<polyline points="278.50,584.40 304.70,662.81 330.90,701.15 357.10,705.33 383.30,711.60 409.50,613.67 435.70,607.40 461.90,701.15 488.10,715.09" fill="none" stroke="#111" stroke-width="1.4"/>
<line x1="278.5" y1="592.7625" x2="278.5" y2="575.3375000000001" stroke="#111" stroke-width="1.2"/>
<line x1="276.5" y1="575.3375000000001" x2="280.5" y2="575.3375000000001" stroke="#111" stroke-width="1.6"/>
<line x1="276.5" y1="592.7625" x2="280.5" y2="592.7625" stroke="#111" stroke-width="1.6"/>
<line x1="278.5" y1="618.203" x2="278.5" y2="599.7325000000001" stroke="#111" stroke-width="1.2"/>
<line x1="276.5" y1="599.7325000000001" x2="280.5" y2="599.7325000000001" stroke="#111" stroke-width="1.6"/>
<line x1="276.5" y1="618.203" x2="280.5" y2="618.203" stroke="#111" stroke-width="1.6"/>
<line x1="357.1" y1="712.995" x2="357.1" y2="696.6155" stroke="#111" stroke-width="1.2"/>
<line x1="355.1" y1="696.6155" x2="359.1" y2="696.6155" stroke="#111" stroke-width="1.6"/>
<line x1="355.1" y1="712.995" x2="359.1" y2="712.995" stroke="#111" stroke-width="1.6"/>
<line x1="409.5" y1="617.1575" x2="409.5" y2="609.839" stroke="#111" stroke-width="1.2"/>
<line x1="407.5" y1="609.839" x2="411.5" y2="609.839" stroke="#111" stroke-width="1.6"/>
<line x1="407.5" y1="617.1575" x2="411.5" y2="617.1575" stroke="#111" stroke-width="1.6"/>
<line x1="435.7" y1="611.5815" x2="435.7" y2="601.475" stroke="#111" stroke-width="1.2"/>
<line x1="433.7" y1="601.475" x2="437.7" y2="601.475" stroke="#111" stroke-width="1.6"/>
<line x1="433.7" y1="611.5815" x2="437.7" y2="611.5815" stroke="#111" stroke-width="1.6"/>
<line x1="304.7" y1="664.902" x2="304.7" y2="660.72" stroke="#111" stroke-width="1.2"/>
<line x1="302.7" y1="660.72" x2="306.7" y2="660.72" stroke="#111" stroke-width="1.6"/>
<line x1="302.7" y1="664.902" x2="306.7" y2="664.902" stroke="#111" stroke-width="1.6"/>
<path d="M274.5,581.3985 L282.5,581.3985 L278.5,587.7985 Z" fill="#111" />
<path d="M300.7,659.811 L308.7,659.811 L304.7,666.211 Z" fill="#111" />
<path d="M326.9,698.1460000000001 L334.9,698.1460000000001 L330.9,704.546 Z" fill="#111" />
<path d="M353.1,702.328 L361.1,702.328 L357.1,708.728 Z" fill="#111" />
<path d="M379.3,708.6010000000001 L387.3,708.6010000000001 L383.3,715.0010000000001 Z" fill="#111" />
<path d="M405.5,610.6725 L413.5,610.6725 L409.5,617.0725 Z" fill="#111" />
<path d="M431.7,604.3995000000001 L439.7,604.3995000000001 L435.7,610.7995000000001 Z" fill="#111" />
<path d="M457.9,698.1460000000001 L465.9,698.1460000000001 L461.9,704.546 Z" fill="#111" />
<path d="M484.1,712.086 L492.1,712.086 L488.1,718.486 Z" fill="#111" />
<circle cx="278.5" cy="613.3240000000001" r="3.45" fill="#111" />
<circle cx="304.7" cy="675.3570000000001" r="3.45" fill="#111" />
<circle cx="330.9" cy="703.934" r="3.45" fill="#111" />
<circle cx="357.1" cy="706.722" r="3.45" fill="#111" />
<circle cx="383.3" cy="712.298" r="3.45" fill="#111" />
<circle cx="409.5" cy="657.932" r="3.45" fill="#111" />
<circle cx="435.7" cy="646.7800000000001" r="3.45" fill="#111" />
<circle cx="461.9" cy="702.5400000000001" r="3.45" fill="#111" />
<circle cx="488.1" cy="716.48" r="3.45" fill="#111" />
<rect x="275.3" y="606.639" width="6.4" height="6.4" fill="#111" />
<rect x="301.5" y="671.46" width="6.4" height="6.4" fill="#111" />
<rect x="327.7" y="700.037" width="6.4" height="6.4" fill="#111" />
<rect x="353.90000000000003" y="705.6129999999999" width="6.4" height="6.4" fill="#111" />
<rect x="380.1" y="709.098" width="6.4" height="6.4" fill="#111" />
<rect x="406.3" y="569.3495" width="6.4" height="6.4" fill="#111" />
<rect x="432.5" y="576.668" width="6.4" height="6.4" fill="#111" />
<rect x="458.7" y="675.642" width="6.4" height="6.4" fill="#111" />
<rect x="484.90000000000003" y="697.946" width="6.4" height="6.4" fill="#111" />
<rect x="342.3" y="727.3" width="108.5" height="4.6" fill="#111"/>
<rect x="398" y="717.4" width="24.6" height="4.2" fill="#111"/>
<text x="425.9" y="721" font-size="11.3" text-anchor="start">IP<tspan font-size="7.8" dy="3.6" dx="-0.2">3</tspan></text>
<text x="453.4" y="733.5" font-size="11.5" text-anchor="start">Peptides</text>
<line x1="272.3" y1="526.9" x2="283.5" y2="526.9" stroke="#111" stroke-width="2.5"/>
<line x1="293.6" y1="526.9" x2="304.5" y2="526.9" stroke="#111" stroke-width="2.5"/>
<rect x="284.6" y="523.4" width="7" height="7" fill="#111"/>
<text x="312" y="530.6999999999999" font-size="10" text-anchor="start">DMSO</text>
<line x1="272.3" y1="542.6" x2="283.5" y2="542.6" stroke="#111" stroke-width="2.5"/>
<line x1="293.6" y1="542.6" x2="304.5" y2="542.6" stroke="#111" stroke-width="2.5"/>
<circle cx="288.5" cy="542.6" r="4.4" fill="#111"/>
<text x="312" y="546.4" font-size="10" text-anchor="start">40 µM BH4-Bcl-2</text>
<line x1="272.3" y1="557.7" x2="283.5" y2="557.7" stroke="#111" stroke-width="2.5"/>
<line x1="293.6" y1="557.7" x2="304.5" y2="557.7" stroke="#111" stroke-width="2.5"/>
<path d="M284.4,554.7 L292.6,554.7 L288.5,560.7 Z" fill="#111"/>
<text x="312" y="561.5" font-size="10" text-anchor="start">40 µM BH4-Bcl-2 + 40 µM IDP<tspan font-size="7">DD/AA</tspan></text>
</svg></body></html>
